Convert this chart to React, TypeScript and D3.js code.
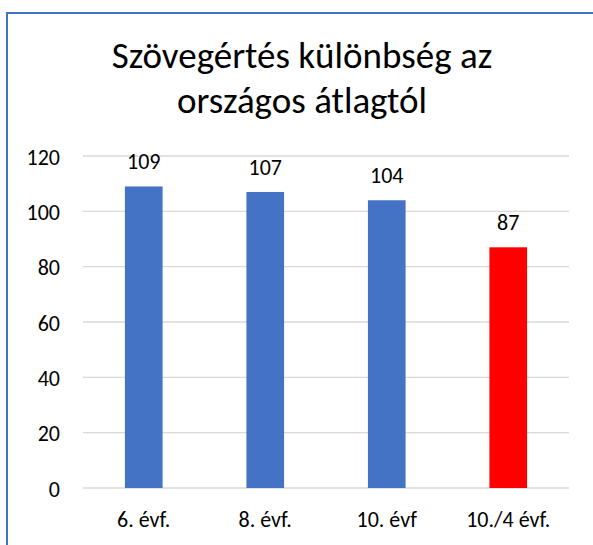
import React, { useEffect, useRef } from "react";
import * as d3 from "d3";

const categories = ["6. évf.", "8. évf.", "10. évf", "10./4 évf."];
const values = [109, 107, 104, 87];
const barColors = ["#4472C4", "#4472C4", "#4472C4", "#FF0000"];
const yTicks = [0, 20, 40, 60, 80, 100, 120];
const titleLines = ["Szövegértés különbség az", "országos átlagtól"];

const App: React.FC = () => {
  const svgRef = useRef(null);

  useEffect(() => {
    const width = 593;
    const height = 545;
    const font = "Carlito, Calibri, 'Open Sans', sans-serif";

    const svg = d3.select(svgRef.current).attr("width", width).attr("height", height);
    svg.selectAll("*").remove();

    svg.append("rect").attr("width", width).attr("height", height).attr("fill", "white");

    // frame, only top/left visible
    svg
      .append("rect")
      .attr("x", 7)
      .attr("y", 13)
      .attr("width", 700)
      .attr("height", 700)
      .attr("fill", "none")
      .attr("stroke", "#4472C4")
      .attr("stroke-width", 2);

    const x = d3.scaleBand().domain(categories).range([83, 569]).paddingInner(0.69).paddingOuter(0.345);
    const y = d3.scaleLinear().domain([0, 120]).range([488, 156]);

    svg
      .append("g")
      .selectAll("line")
      .data(yTicks)
      .enter()
      .append("line")
      .attr("x1", 83)
      .attr("x2", 569)
      .attr("y1", (d) => y(d))
      .attr("y2", (d) => y(d))
      .attr("stroke", "#d9d9d9")
      .attr("stroke-width", 1.3);

    svg
      .append("g")
      .selectAll("text")
      .data(yTicks)
      .enter()
      .append("text")
      .attr("x", 60)
      .attr("y", (d) => y(d) + 8.5)
      .attr("text-anchor", "end")
      .style("font", `22px ${font}`)
      .attr("fill", "#000")
      .text((d) => d);

    svg
      .append("g")
      .selectAll("rect")
      .data(values)
      .enter()
      .append("rect")
      .attr("x", (_, i) => x(categories[i])!)
      .attr("width", x.bandwidth())
      .attr("y", (d) => y(d))
      .attr("height", (d) => y(0) - y(d))
      .attr("fill", (_, i) => barColors[i]);

    svg
      .append("g")
      .selectAll("text")
      .data(values)
      .enter()
      .append("text")
      .attr("x", (_, i) => x(categories[i])! + x.bandwidth() / 2)
      .attr("y", (d) => y(d) - 17)
      .attr("text-anchor", "middle")
      .style("font", `22px ${font}`)
      .attr("fill", "#000")
      .text((d) => d);

    svg
      .append("g")
      .selectAll("text")
      .data(categories)
      .enter()
      .append("text")
      .attr("x", (d) => x(d)! + x.bandwidth() / 2)
      .attr("y", 527)
      .attr("text-anchor", "middle")
      .style("font", `22px ${font}`)
      .attr("fill", "#000")
      .text((d) => d);

    svg
      .append("g")
      .selectAll("text")
      .data(titleLines)
      .enter()
      .append("text")
      .attr("x", 302)
      .attr("y", (_, i) => 68 + i * 45)
      .attr("text-anchor", "middle")
      .style("font", `37px ${font}`)
      .attr("fill", "#000")
      .text((d) => d);
  }, []);

  return <svg ref={svgRef} style={{ position: "absolute", left: 0, top: 0, display: "block" }} />;
};

export default App;
